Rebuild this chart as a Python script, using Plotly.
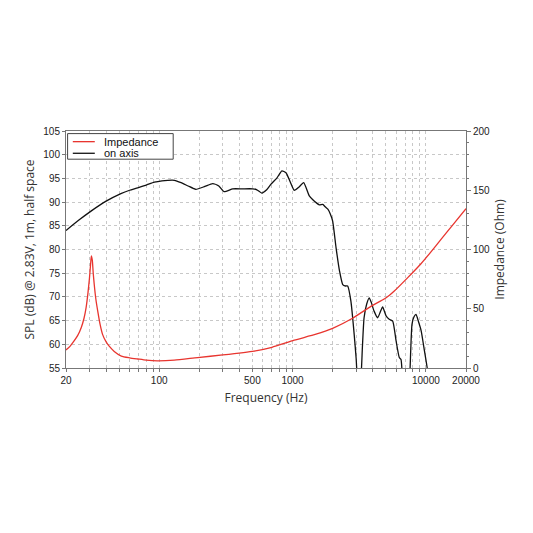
import plotly.graph_objects as go

##########################################
# 1. Data
##########################################
# Impedance curve (Ohm, right axis)
imp_freq = [20, 21.5, 23, 24.5, 26, 27.3, 28.3, 29.2, 30, 30.6, 31, 31.5, 32, 32.6, 33.5, 34.6,
            36, 37.6, 40, 42, 46, 52, 60, 69, 80, 97, 130, 194, 300, 516, 700,
            1030, 1500, 2000, 2820, 3870, 5000, 5800, 7345, 9190, 10920, 12990, 15990, 20000]
imp_ohm = [15.2, 18.5, 22.8, 27.5, 34, 42, 51, 63, 76, 88, 94.5, 91, 80, 70, 58, 48,
           37, 28.4, 22, 18.6, 14, 10.1, 8.6, 7.6, 6.6, 6.0, 6.6, 8.8, 11, 14.3, 17.5,
           23.5, 28.5, 33.5, 42, 52, 59, 65, 76.5, 88, 98, 108.5, 121, 134.5]

# On-axis SPL (dB, left axis); values below 55 fall off the bottom of the plot
spl_freq = [20, 25, 30.8, 40, 51.6, 60, 69, 80, 92, 105, 116, 130, 146, 165, 188,
            220, 252, 280, 307, 356, 420, 502, 540, 588, 640, 690, 760, 832, 893, 960,
            1030, 1120, 1212, 1336, 1420, 1500, 1590, 1686, 1760, 1840, 1920, 2000, 2120,
            2250, 2380, 2500, 2590, 2740, 2900, 3000, 3070, 3150, 3250, 3350, 3440, 3600,
            3760, 3900, 4090, 4350, 4550, 4740, 5030, 5310, 5640, 5980, 6320, 6510,
            6700, 7000, 7300, 7540, 7870, 8150, 8440, 8800, 9230, 9760, 10240, 10600]
spl_db = [84.0, 86.2, 88.1, 90.2, 91.8, 92.5, 93.0, 93.6, 94.2, 94.5, 94.6, 94.6, 94.1, 93.4, 92.7,
          93.3, 93.9, 93.4, 92.2, 92.8, 92.8, 92.8, 92.6, 91.9, 92.6, 93.8, 95.0, 96.6, 96.2, 94.3,
          92.5, 93.2, 94.1, 91.3, 90.5, 89.9, 89.4, 89.5, 89.0, 88.5, 87.5, 86.0, 80.4,
          75.5, 72.6, 72.3, 72.3, 69.1, 62.1, 57.0, 52.0, 49.0, 52.0, 60.0, 65.6, 68.5,
          69.8, 68.8, 67.0, 65.6, 66.8, 67.9, 66.0, 65.3, 64.9, 60.7, 57.2, 56.8,
          52.0, 48.0, 48.0, 52.0, 64.2, 65.8, 66.3, 64.8, 62.8, 58.6, 55.0, 52.0]

x_tick_vals = [20, 100, 500, 1000, 10000, 20000]
y_tick_vals = [55, 60, 65, 70, 75, 80, 85, 90, 95, 100, 105]
y2_tick_vals = [0, 50, 100, 150, 200]
legend_names = ["Impedance", "on axis"]
line_colors = ["#e8352f", "#111111"]

# gridlines at every 1-9 step of each decade
grid_vals = [m * d for d in (10, 100, 1000) for m in range(1, 10) if 20 <= m * d] + [10000, 20000]
grid_text = [str(v) if v in x_tick_vals else "" for v in grid_vals]

##########################################
# 2. Plot
##########################################
fig = go.Figure()
fig.add_trace(go.Scatter(x=imp_freq, y=imp_ohm, name=legend_names[0], yaxis="y2", mode="lines",
                         line=dict(color=line_colors[0], width=1.3, shape="spline", smoothing=0.6)))
fig.add_trace(go.Scatter(x=spl_freq, y=spl_db, name=legend_names[1], mode="lines",
                         line=dict(color=line_colors[1], width=1.3, shape="spline", smoothing=0.5)))

grid_col = "#c8c8c8"
axis_col = "#777777"
tick_font = dict(family="Liberation Sans", size=10, color="#222222")
title_font = dict(family="Open Sans", size=12, color="#333333")

# compact legend box drawn in paper coordinates (plotly's own legend rows are too tall)
fig.add_shape(type="rect", xref="paper", yref="paper", x0=0.004, x1=0.268, y0=0.881, y1=0.989,
              line=dict(color="#444444", width=1), fillcolor="white", layer="above")
for i, (name, col) in enumerate(zip(legend_names, line_colors)):
    yy = 0.955 - i * 0.049
    fig.add_shape(type="line", xref="paper", yref="paper", x0=0.017, x1=0.072, y0=yy, y1=yy,
                  line=dict(color=col, width=1.3), layer="above")
    fig.add_annotation(x=0.09, y=yy, xref="paper", yref="paper", text=name, showarrow=False,
                       xanchor="left", yanchor="middle",
                       font=dict(family="Liberation Sans", size=11, color="#111111"))

fig.update_layout(
    width=533, height=533,
    margin=dict(l=58, r=75, t=123, b=173),
    paper_bgcolor="white", plot_bgcolor="white",
    showlegend=False,
    xaxis=dict(type="log", range=[1.30103, 4.30103],
               tickvals=grid_vals, ticktext=grid_text,
               showgrid=True, gridcolor=grid_col, griddash="dot", gridwidth=1,
               ticks="outside", ticklen=3, tickcolor=axis_col,
               showline=True, linecolor=axis_col, mirror=True,
               tickfont=tick_font, zeroline=False,
               title=dict(text="Frequency (Hz)", font=title_font, standoff=8)),
    yaxis=dict(range=[55, 105], tickvals=y_tick_vals,
               showgrid=True, gridcolor=grid_col, griddash="dot", gridwidth=1,
               ticks="outside", ticklen=3, tickcolor=axis_col,
               showline=True, linecolor=axis_col, mirror=False,
               tickfont=tick_font, zeroline=False,
               title=dict(text="SPL (dB) @ 2.83V, 1m, half space", font=title_font, standoff=6)),
    yaxis2=dict(range=[0, 200], tickvals=y2_tick_vals, overlaying="y", side="right",
                showgrid=False, ticks="outside", ticklen=4, tickcolor=axis_col,
                minor=dict(dtick=10, ticks="outside", ticklen=2, tickcolor=axis_col),
                showline=True, linecolor=axis_col,
                tickfont=tick_font, zeroline=False,
                title=dict(text="Impedance (Ohm)", font=title_font, standoff=6)),
)

fig.write_html("out.html")
